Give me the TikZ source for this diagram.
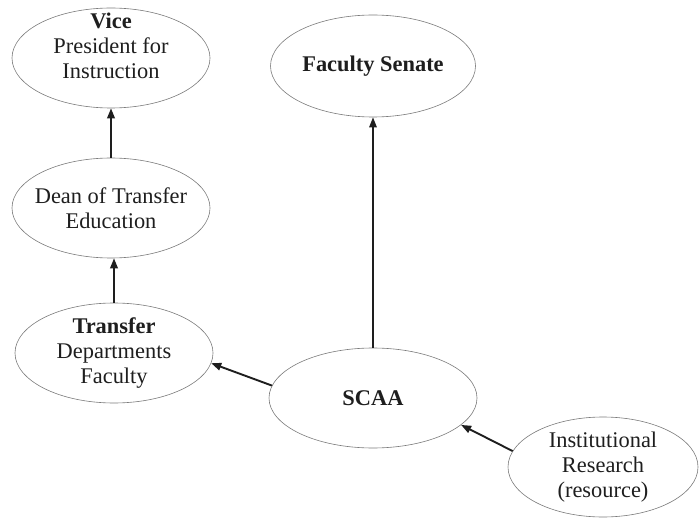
\documentclass[tikz,border=0pt]{standalone}
\usepackage{fontspec}
\setmainfont{Liberation Serif}
\usetikzlibrary{arrows.meta, shapes.geometric, positioning}
\definecolor{inkBlack}{HTML}{1E1E1E}
\definecolor{rimGrey}{HTML}{7A7A7A}
\tikzset{
  bubble/.style   = {ellipse, draw=rimGrey, line width=0.6bp,
                     inner xsep=-25bp, inner ysep=-10bp,
                     minimum width=198bp, minimum height=100bp},
  lbl/.style      = {font=\fontsize{22.5}{25}\selectfont, text=inkBlack, align=center},
  link/.style     = {-{Triangle[length=10bp,width=7.5bp]}, line width=1.9bp, inkBlack},
  thinlink/.style = {link, line width=1.3bp},
}
\begin{document}
\begin{tikzpicture}[x=1bp,y=-1bp]
  \useasboundingbox (0,0) rectangle (699,523);
  % left column: reporting line
  \node[bubble] (vp) at (111,58) {};
  \node[lbl] (vptext) at (111,46) {\textbf{Vice}\\President for\\Instruction};
  \node[bubble, lbl] (dean) at (111,208) {Dean of Transfer\\Education};
  \node[bubble, lbl] (tdf) at (114,353) {\textbf{Transfer}\\Departments\\Faculty};
  % right column
  \node[bubble, lbl, minimum width=205bp, minimum height=102bp] (senate) at (373,66)
    {\textbf{Faculty Senate}};
  \node[bubble, lbl, minimum width=208bp] (scaa) at (373,398) {\textbf{SCAA}};
  \node[bubble, lbl, minimum width=190bp] (ir) at (603,467)
    {Institutional\\Research\\(resource)};
  % connectors
  \draw[link] (dean.north) -- (vp.south);
  \draw[link] (tdf.north) -- (tdf.north |- dean.south);
  \draw[thinlink] (scaa.north) -- (senate.south);
  \draw[link] (scaa.173) -- (tdf.-6);
  \draw[link] (ir.170) -- (scaa.-17);
\end{tikzpicture}
\end{document}
